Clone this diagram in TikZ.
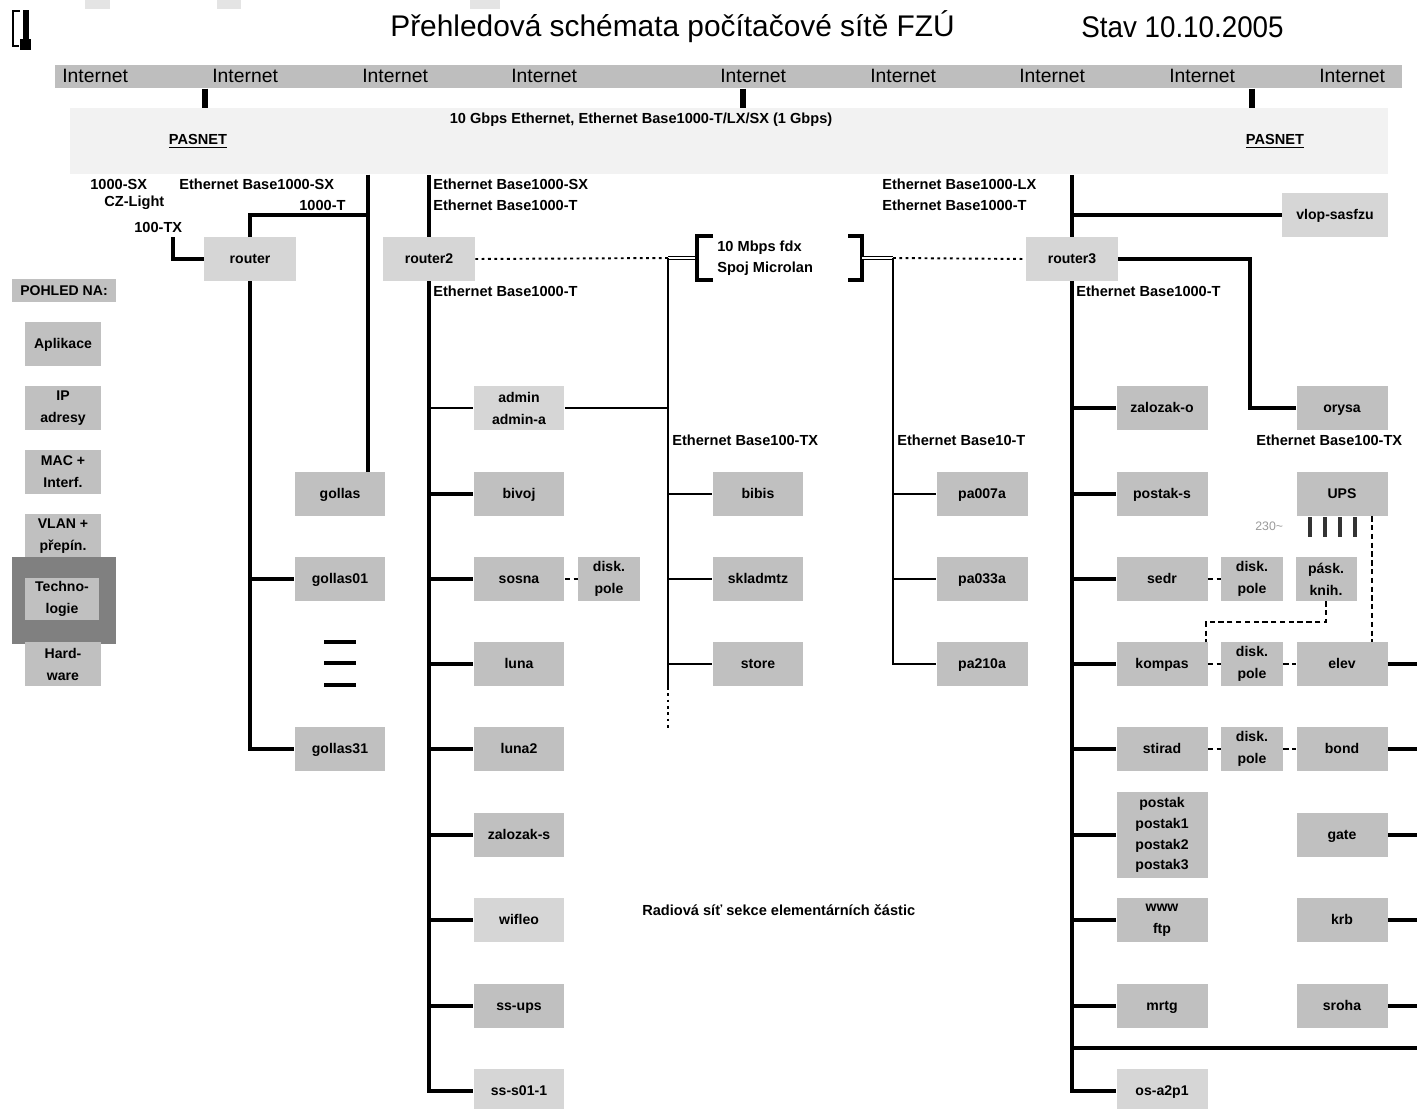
\documentclass[tikz,border=0pt]{standalone}
\usepackage{fontspec}
\setmainfont{Liberation Sans}
\usetikzlibrary{calc}
\definecolor{inetgray}{HTML}{BEBEBE}
\definecolor{boxdk}{HTML}{C0C0C0}
\definecolor{boxlt}{HTML}{D6D6D6}
\definecolor{pasbg}{HTML}{F2F2F2}
\definecolor{framegray}{HTML}{808080}
\definecolor{tabgray}{HTML}{E4E4E4}
\begin{document}
\begin{tikzpicture}[x=0.02cm,y=-0.02cm,
 lbl/.style={font=\fontsize{8.3}{9.8}\selectfont\bfseries, inner sep=0, anchor=west},
 bxm/.style={fill=boxdk, minimum width=1.82cm, minimum height=0.88cm, inner sep=0, align=center, font=\fontsize{8}{12.5}\selectfont\bfseries},
 bx/.style={bxm, execute at begin node=\strut, execute at end node=\strut},
 lbx/.style={bx, fill=boxlt},
 lbxm/.style={bxm, fill=boxlt},
 dbx/.style={bxm, minimum width=1.24cm},
 pbx/.style={bx, minimum width=1.52cm},
 pbxm/.style={bxm, minimum width=1.52cm},
 inettxt/.style={font=\fontsize{11}{13}\selectfont, inner sep=0, anchor=west},
 thk/.style={line width=2.3pt},
 thn/.style={line width=1.1pt},
 inetln/.style={line width=3.4pt},
 dsh/.style={line width=1.1pt, dash pattern=on 3pt off 2pt},
 dtd/.style={line width=1.1pt, dash pattern=on 1.6pt off 2pt},
 dbl/.style={double, double distance=1.1pt, line width=0.6pt},
 brk/.style={line width=2.3pt},
]
\useasboundingbox (0,0) rectangle (1417,1109);
\clip (0,0) rectangle (1417,1109);

% top tabs and glyph
\fill[tabgray] (85,0) rectangle (110,9);
\fill[tabgray] (217,0) rectangle (241,9);
\fill[tabgray] (470,0) rectangle (500,9);
\draw[line width=1.1pt] (20,11) -- (13,11) -- (13,46) -- (19,46);
\fill (23,10) rectangle (29,41);
\fill (20,39) rectangle (31,50);

% title
\node[anchor=west, inner sep=0, font=\fontsize{17}{20}\selectfont] (title) at (390,27) {Přehledová schémata počítačové sítě FZÚ};
\node[anchor=west, inner sep=0, font=\fontsize{17}{20}\selectfont] (stav) at (1081,27) {\scalebox{0.93}[1]{Stav 10.10.2005}};

% internet bar
\node[fill=inetgray, inner sep=0, minimum width=26.94cm, minimum height=0.46cm, anchor=north west] (inet) at (55,65) {};
\foreach \x/\n in {62/ia,212/ib,362/ic,511/id,720/ie,870/if,1019/ig,1169/ih,1319/ii}
  \node[inettxt] (\n) at (\x,76) {Internet};

% PASNET
\node[fill=pasbg, inner sep=0, minimum width=26.36cm, minimum height=1.32cm, anchor=north west] (pasnet) at (70,108) {};
\node[lbl, anchor=center] (pasl) at (198,141) {\underline{PASNET}};
\node[lbl, anchor=center] (pasr) at (1275,141) {\underline{PASNET}};
\node[lbl, anchor=center] (pasinfo) at (641,120) {10 Gbps Ethernet, Ethernet Base1000-T/LX/SX (1 Gbps)};

\coordinate (c205) at (205,0);
\coordinate (c743) at (743,0);
\coordinate (c1252) at (1252,0);
\foreach \c in {c205,c743,c1252}
  \draw[inetln] (\c |- inet.south) -- (\c |- pasnet.north);

% labels
\node[lbl] (l1) at (90,184) {1000-SX};
\node[lbl] (l2) at (104,203) {CZ-Light};
\node[lbl] (l3) at (134,227) {100-TX};
\node[lbl] (l4) at (179,184) {Ethernet Base1000-SX};
\node[lbl] (l5) at (299,205) {1000-T};
\node[lbl] (l6) at (433,184) {Ethernet Base1000-SX};
\node[lbl] (l7) at (433,205) {Ethernet Base1000-T};
\node[lbl] (l8) at (433,291) {Ethernet Base1000-T};
\node[lbl] (l9) at (882,184) {Ethernet Base1000-LX};
\node[lbl] (l10) at (882,205) {Ethernet Base1000-T};
\node[lbl] (l11) at (1076,291) {Ethernet Base1000-T};
\node[lbl] (l12) at (672,440) {Ethernet Base100-TX};
\node[lbl] (l13) at (897,440) {Ethernet Base10-T};
\node[lbl] (l14) at (1256,440) {Ethernet Base100-TX};
\node[lbl] (radio) at (642,910) {Radiová síť sekce elementárních částic};

% left panel
\node[bxm, minimum width=2.08cm, minimum height=0.46cm] (pohled) at (64,290.5) {POHLED NA:};
\node[pbx] (apl) at (63,344) {Aplikace};
\node[pbxm] (ipa) at (63,408) {IP\\adresy};
\node[pbxm] (mac) at (63,472) {MAC +\\Interf.};
\node[pbxm] (vlan) at (63,536) {VLAN +\\přepín.};
\fill[framegray] (12,557) rectangle (116,644);
\node[pbxm, minimum width=1.48cm, minimum height=0.84cm] (tech) at (62,599) {Techno-\\logie};
\node[pbxm] (hw) at (63,664) {Hard-\\ware};

% routers
\node[lbx, minimum width=1.84cm] (router) at (250,259) {router};
\node[lbx, minimum width=1.84cm] (router2) at (429,259) {router2};
\node[lbx, minimum width=1.84cm] (router3) at (1072,259) {router3};
\node[lbx, minimum width=2.12cm] (vlop) at (1335,215) {vlop-sasfzu};

% router column
\node[bx] (gollas) at (340,494) {gollas};
\node[bx] (gollas01) at (340,579) {gollas01};
\node[bx] (gollas31) at (340,749) {gollas31};
\foreach \y in {642,663,685} \draw[thk] (324,\y) -- (356,\y);

% router2 column
\node[lbxm] (admin) at (519,408) {admin\\admin-a};
\node[bx] (bivoj) at (519,494) {bivoj};
\node[bx] (sosna) at (519,579) {sosna};
\node[dbx] (disks) at (609,579) {disk.\\pole};
\node[bx] (luna) at (519,664) {luna};
\node[bx] (luna2) at (519,749) {luna2};
\node[bx] (zalozaks) at (519,835) {zalozak-s};
\node[lbx] (wifleo) at (519,920) {wifleo};
\node[bx] (ssups) at (519,1006) {ss-ups};
\node[lbx] (sss) at (519,1091) {ss-s01-1};

% microlan columns
\node[bx] (bibis) at (758,494) {bibis};
\node[bx] (skladmtz) at (758,579) {skladmtz};
\node[bx] (store) at (758,664) {store};
\node[bx] (pa007a) at (982,494) {pa007a};
\node[bx] (pa033a) at (982,579) {pa033a};
\node[bx] (pa210a) at (982,664) {pa210a};

% router3 column
\node[bx] (zalozako) at (1162,408) {zalozak-o};
\node[bx] (postaks) at (1162,494) {postak-s};
\node[bx] (sedr) at (1162,579) {sedr};
\node[dbx] (disk1) at (1252,579) {disk.\\pole};
\node[bxm, minimum width=1.22cm] (pask) at (1326,579) {pásk.\\knih.};
\node[bx] (kompas) at (1162,664) {kompas};
\node[dbx] (disk2) at (1252,664) {disk.\\pole};
\node[bx] (elev) at (1342,664) {elev};
\node[bx] (stirad) at (1162,749) {stirad};
\node[dbx] (disk3) at (1252,749) {disk.\\pole};
\node[bx] (bond) at (1342,749) {bond};
\node[bxm, minimum height=1.72cm, font=\fontsize{8}{11.8}\selectfont\bfseries] (postak) at (1162,835) {postak\\postak1\\postak2\\postak3};
\node[bxm] (www) at (1162,920) {www\\ftp};
\node[bx] (mrtg) at (1162,1006) {mrtg};
\node[lbx] (osa) at (1162,1091) {os-a2p1};
\node[bx] (orysa) at (1342,408) {orysa};
\node[bx] (ups) at (1342,494) {UPS};
\node[bx] (gate) at (1342,835) {gate};
\node[bx] (krb) at (1342,920) {krb};
\node[bx] (sroha) at (1342,1006) {sroha};

% coordinates
\coordinate (c368) at (368,0);
\coordinate (j1) at (368,215);
\coordinate (tx) at (173,237);
\coordinate (mL) at (668,258);
\coordinate (bL) at (697,258);
\coordinate (bR) at (862,258);
\coordinate (mR) at (893,258);
\coordinate (mEnd) at (668,730);
\coordinate (mSol) at (668,687);
\coordinate (c1250) at (1250,0);
\coordinate (redge) at (1417,0);
\coordinate (h1) at (1072,1048);
\coordinate (k1) at (1206,622);
\coordinate (c1372) at (1372,0);

% router connectors
\draw[thk] (c368 |- pasnet.south) -- (c368 |- gollas.north);
\draw[thk] (router.north) |- (j1);
\draw[thk] (tx) |- (router.west);
\draw[thk] (router.south) |- (gollas31.west);
\draw[thk] (router.south |- gollas01.west) -- (gollas01.west);

% router2 connectors
\draw[thk] (router2.north) -- (router2.north |- pasnet.south);
\draw[thk] (router2.south) |- (sss.west);
\draw[thn] (router2.south |- admin.west) -- (admin.west);
\foreach \n in {bivoj,sosna,luna,luna2,zalozaks,wifleo,ssups}
  \draw[thk] (router2.south |- \n.west) -- (\n.west);
\draw[dsh] (sosna.east) -- (disks.west);

% microlan link
\draw[dtd] (router2.east) -- (mL);
\draw[dbl] (mL) -- (bL);
\draw[brk] (713,236) -- (697,236) -- (697,280) -- (713,280);
\node[lbl, align=left, font=\fontsize{8.3}{12}\selectfont\bfseries] (mlan) at (717,258) {10 Mbps fdx\\Spoj Microlan};
\draw[brk] (848,236) -- (862,236) -- (862,280) -- (848,280);
\draw[dbl] (bR) -- (mR);
\draw[dtd] (mR) -- (router3.west);

\draw[thn] (mL) -- (mSol);
\draw[dtd] (mSol) -- (mEnd);
\draw[thn] (admin.east) -- (mL |- admin.east);
\foreach \n in {bibis,skladmtz,store}
  \draw[thn] (mL |- \n.west) -- (\n.west);
\draw[thn] (mR) |- (pa210a.west);
\foreach \n in {pa007a,pa033a}
  \draw[thn] (mR |- \n.west) -- (\n.west);

% router3 connectors
\draw[thk] (router3.north) -- (router3.north |- pasnet.south);
\draw[thk] (router3.north |- vlop.west) -- (vlop.west);
\draw[thk] (router3.south) |- (osa.west);
\foreach \n in {zalozako,postaks,sedr,kompas,stirad,postak,www,mrtg}
  \draw[thk] (router3.south |- \n.west) -- (\n.west);
\draw[thk] (h1) -- (h1 -| redge);
\draw[thk] (router3.east) -| (c1250 |- orysa.west) -- (orysa.west);
\foreach \n in {elev,bond,gate,krb,sroha}
  \draw[thk] (\n.east) -- (\n.east -| redge);

\draw[dsh] (sedr.east) -- (disk1.west);
\draw[dsh] (kompas.east) -- (disk2.west);
\draw[dsh] (disk2.east) -- (elev.west);
\draw[dsh] (stirad.east) -- (disk3.west);
\draw[dsh] (disk3.east) -- (bond.west);
\draw[dsh] (pask.south) |- (k1) -- (k1 |- kompas.north);
\draw[dsh] (c1372 |- ups.south) -- (c1372 |- elev.north);

% UPS outlets
\foreach \x in {1310,1325,1340,1355} \draw[line width=1.8pt, draw=black!80] (\x,517) -- (\x,537);
\node[font=\fontsize{7}{8}\selectfont, text=black!40, anchor=west, inner sep=0] (v230) at (1255,526) {230\textasciitilde};

\end{tikzpicture}
\end{document}
